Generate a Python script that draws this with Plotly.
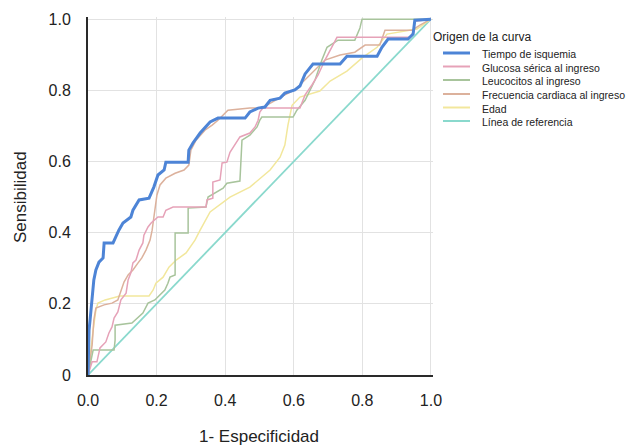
import plotly.graph_objects as go

# ---------------- data ----------------
series_names = [
    "Tiempo de isquemia",
    "Glucosa sérica al ingreso",
    "Leucocitos al ingreso",
    "Frecuencia cardiaca al ingreso",
    "Edad",
    "Línea de referencia",
]

tiempo_fpr = [0, 0.003, 0.006, 0.009, 0.015, 0.017, 0.023, 0.032, 0.044, 0.047, 0.073, 0.090, 0.102, 0.125,
              0.131, 0.149, 0.178, 0.192, 0.204, 0.222, 0.227, 0.292, 0.294, 0.306, 0.327, 0.341, 0.356,
              0.379, 0.458, 0.472, 0.496, 0.516, 0.531, 0.560, 0.574, 0.603, 0.618, 0.633, 0.656, 0.735,
              0.755, 0.843, 0.857, 0.875, 0.933, 0.948, 0.953, 1.0]
tiempo_tpr = [0, 0.126, 0.154, 0.191, 0.239, 0.267, 0.295, 0.317, 0.329, 0.371, 0.371, 0.407, 0.427, 0.444,
              0.463, 0.492, 0.497, 0.528, 0.562, 0.576, 0.598, 0.598, 0.632, 0.652, 0.680, 0.694, 0.711,
              0.722, 0.722, 0.739, 0.750, 0.753, 0.772, 0.778, 0.792, 0.801, 0.812, 0.846, 0.874, 0.874,
              0.896, 0.896, 0.921, 0.944, 0.944, 0.958, 0.997, 1.0]

glucosa_fpr = [0, 0.012, 0.026, 0.035, 0.052, 0.061, 0.070, 0.076, 0.087, 0.096, 0.111, 0.117, 0.125, 0.131,
               0.140, 0.149, 0.160, 0.163, 0.175, 0.184, 0.204, 0.219, 0.227, 0.248, 0.344, 0.347, 0.364,
               0.364, 0.385, 0.391, 0.405, 0.414, 0.443, 0.458, 0.472, 0.487, 0.496, 0.501, 0.510, 0.618,
               0.633, 0.653, 0.671, 0.691, 0.706, 0.726, 0.939, 0.948, 0.953, 1.0]
glucosa_tpr = [0, 0.037, 0.037, 0.076, 0.093, 0.118, 0.135, 0.160, 0.177, 0.211, 0.230, 0.267, 0.287, 0.315,
               0.323, 0.351, 0.371, 0.393, 0.416, 0.427, 0.444, 0.444, 0.463, 0.472, 0.472, 0.492, 0.497,
               0.542, 0.548, 0.596, 0.598, 0.626, 0.669, 0.674, 0.680, 0.697, 0.716, 0.739, 0.750, 0.750,
               0.787, 0.815, 0.843, 0.885, 0.913, 0.949, 0.949, 0.963, 0.994, 1.0]

leucocitos_fpr = [0, 0.009, 0.015, 0.076, 0.079, 0.079, 0.128, 0.160, 0.175, 0.195, 0.224, 0.233, 0.239,
                  0.254, 0.254, 0.292, 0.292, 0.344, 0.350, 0.394, 0.405, 0.443, 0.449, 0.472, 0.493, 0.501,
                  0.507, 0.598, 0.609, 0.633, 0.662, 0.682, 0.697, 0.729, 0.778, 0.793, 0.799, 1.0]
leucocitos_tpr = [0, 0.037, 0.070, 0.070, 0.098, 0.140, 0.146, 0.174, 0.202, 0.211, 0.239, 0.258, 0.275,
                  0.281, 0.399, 0.399, 0.469, 0.472, 0.500, 0.525, 0.539, 0.545, 0.660, 0.674, 0.697, 0.716,
                  0.725, 0.725, 0.744, 0.772, 0.829, 0.885, 0.921, 0.941, 0.941, 0.975, 1.0, 1.0]

frecuencia_fpr = [0, 0.006, 0.012, 0.017, 0.023, 0.047, 0.070, 0.087, 0.096, 0.105, 0.117, 0.131, 0.146,
                  0.157, 0.169, 0.181, 0.187, 0.192, 0.201, 0.210, 0.227, 0.254, 0.280, 0.294, 0.300, 0.315,
                  0.341, 0.362, 0.379, 0.408, 0.472, 0.507, 0.545, 0.574, 0.603, 0.633, 0.662, 0.691, 0.735,
                  0.778, 0.808, 0.851, 0.866, 0.945, 0.968, 1.0]
frecuencia_tpr = [0, 0.037, 0.084, 0.154, 0.188, 0.197, 0.202, 0.211, 0.239, 0.261, 0.281, 0.295, 0.315,
                  0.329, 0.351, 0.379, 0.407, 0.444, 0.506, 0.534, 0.553, 0.567, 0.576, 0.590, 0.632, 0.660,
                  0.688, 0.702, 0.716, 0.744, 0.750, 0.750, 0.772, 0.787, 0.801, 0.829, 0.857, 0.885, 0.899,
                  0.907, 0.927, 0.927, 0.969, 0.969, 0.983, 1.0]

edad_fpr = [0, 0.006, 0.015, 0.023, 0.029, 0.050, 0.070, 0.093, 0.178, 0.190, 0.198, 0.219, 0.236, 0.257,
            0.286, 0.312, 0.327, 0.356, 0.414, 0.472, 0.531, 0.560, 0.574, 0.583, 0.595, 0.618, 0.676, 0.706,
            0.755, 0.802, 0.843, 0.872, 0.959, 1.0]
edad_tpr = [0, 0.056, 0.126, 0.183, 0.202, 0.211, 0.216, 0.222, 0.222, 0.239, 0.258, 0.275, 0.303, 0.323,
            0.343, 0.379, 0.407, 0.458, 0.500, 0.528, 0.576, 0.612, 0.646, 0.702, 0.758, 0.781, 0.798, 0.826,
            0.854, 0.893, 0.921, 0.958, 0.972, 1.0]

referencia_fpr = [0, 1]
referencia_tpr = [0, 1]

x_tick_vals = [0, 0.2, 0.4, 0.6, 0.8, 1.0]
x_tick_text = ["0.0", "0.2", "0.4", "0.6", "0.8", "1.0"]
y_tick_vals = [0, 0.2, 0.4, 0.6, 0.8, 1.0]
y_tick_text = ["0", "0.2", "0.4", "0.6", "0.8", "1.0"]

x_title = "1- Especificidad"
y_title = "Sensibilidad"
legend_title = "Origen de la curva"

# ---------------- styling ----------------
colors = ["#4d84d6", "#e6a2b8", "#a8c49c", "#dcb19c", "#f2e79c", "#8ad9cd"]
widths = [3, 1.5, 1.5, 1.5, 1.5, 1.8]
FONT = "Liberation Sans, Arial, sans-serif"

W, H = 636, 445
ML, MR, MT, MB = 88, 203, 17, 70
PW, PH = W - ML - MR, H - MT - MB


def paper_x(px):
    return (px - ML) / PW


def paper_y(py):
    return (H - MB - py) / PH


curves = [
    (tiempo_fpr, tiempo_tpr),
    (glucosa_fpr, glucosa_tpr),
    (leucocitos_fpr, leucocitos_tpr),
    (frecuencia_fpr, frecuencia_tpr),
    (edad_fpr, edad_tpr),
    (referencia_fpr, referencia_tpr),
]

fig = go.Figure()
draw_order = [5, 4, 3, 2, 1, 0]
for i in draw_order:
    xs, ys = curves[i]
    fig.add_trace(go.Scatter(
        x=xs, y=ys, mode="lines", name=series_names[i],
        line=dict(color=colors[i], width=widths[i]),
        showlegend=False, hoverinfo="name+x+y",
    ))

axis_common = dict(
    showgrid=True, gridcolor="#e2e2e2", gridwidth=1,
    showline=True, linecolor="#2a2a2a", linewidth=2,
    zeroline=False, ticks="", tickfont=dict(family=FONT, size=16, color="#222"),
    fixedrange=True,
)
fig.update_xaxes(range=[0, 1.006], tickvals=x_tick_vals, ticktext=x_tick_text,
                 ticklabelstandoff=10, **axis_common)
fig.update_yaxes(range=[0, 1.006], tickvals=y_tick_vals, ticktext=y_tick_text,
                 ticklabelstandoff=12, **axis_common)

annotations = [
    dict(text=y_title, x=paper_x(20), y=paper_y(197), xref="paper", yref="paper", textangle=-90,
         showarrow=False, font=dict(family=FONT, size=17, color="#222"), xanchor="center", yanchor="middle"),
    dict(text=x_title, x=paper_x(259), y=paper_y(436), xref="paper", yref="paper",
         showarrow=False, font=dict(family=FONT, size=17, color="#222"), xanchor="center", yanchor="middle"),
    dict(text=legend_title, x=paper_x(431), y=paper_y(37), xref="paper", yref="paper",
         showarrow=False, font=dict(family=FONT, size=12, color="#222"), xanchor="left", yanchor="middle"),
]
shapes = []
item_y = [54, 67.5, 81, 95, 108.5, 122]
for i, name in enumerate(series_names):
    annotations.append(dict(
        text=name, x=paper_x(480), y=paper_y(item_y[i]), xref="paper", yref="paper",
        showarrow=False, font=dict(family=FONT, size=10.5, color="#222"),
        xanchor="left", yanchor="middle"))
    shapes.append(dict(
        type="line", xref="paper", yref="paper",
        x0=paper_x(443), x1=paper_x(470), y0=paper_y(item_y[i] - 1), y1=paper_y(item_y[i] - 1),
        line=dict(color=colors[i], width=3 if i == 0 else 2)))

fig.update_layout(
    width=W, height=H,
    margin=dict(l=ML, r=MR, t=MT, b=MB, pad=0),
    paper_bgcolor="white", plot_bgcolor="white",
    font=dict(family=FONT, color="#222"),
    annotations=annotations, shapes=shapes,
    showlegend=False,
)

fig.write_html(
    "out.html",
    config={"displayModeBar": False},
    post_script="document.body.style.margin='0';document.body.style.overflow='hidden';",
)
